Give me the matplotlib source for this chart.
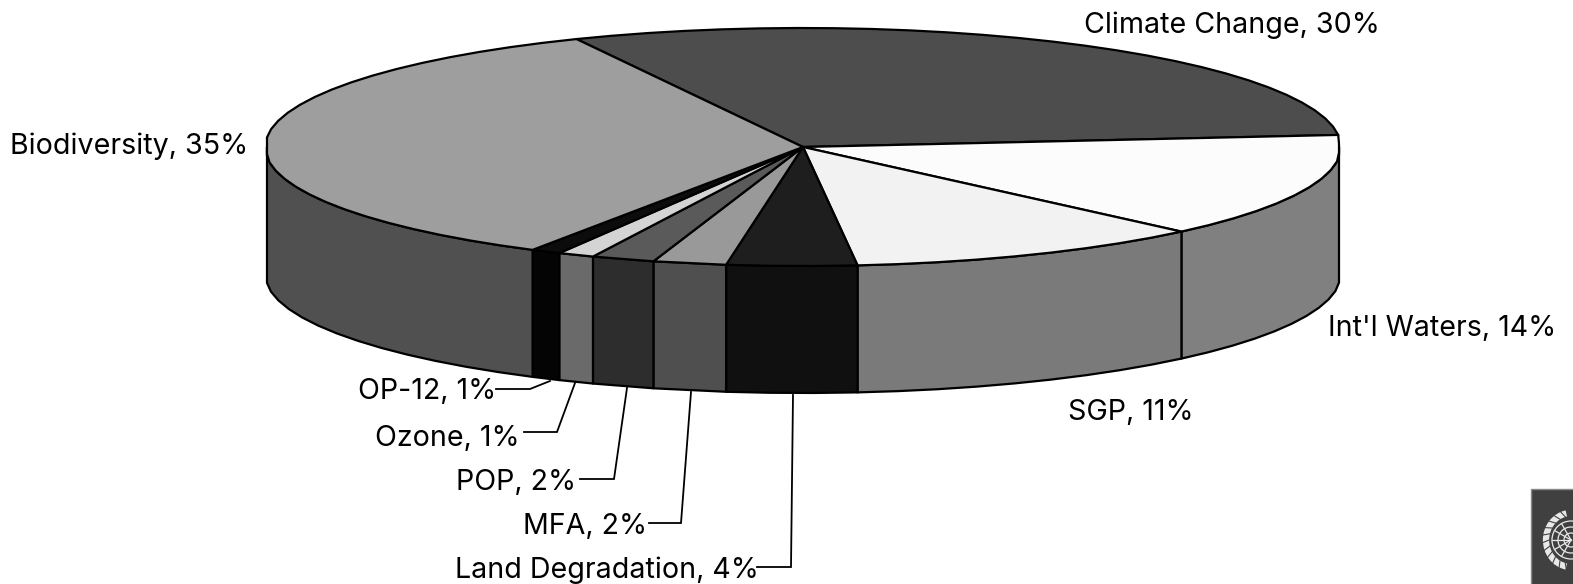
import numpy as np
import matplotlib
matplotlib.use("Agg")
import matplotlib.pyplot as plt
from matplotlib.patches import Polygon, Rectangle, Circle, Arc

plt.rcParams['font.family'] = ['Inter', 'Liberation Sans', 'DejaVu Sans']

# Data, clockwise from the Climate Change start edge
categories = ["Climate Change", "Int'l Waters", "SGP", "Land Degradation", "MFA",
              "POP", "Ozone", "OP-12", "Biodiversity"]
shares = [30.3, 14.2, 10.8, 3.9, 2.2, 1.9, 1.1, 0.9, 34.7]
top_colors = ["#4d4d4d", "#fcfcfc", "#f2f2f2", "#1e1e1e", "#999999",
              "#5a5a5a", "#d4d4d4", "#0c0c0c", "#9e9e9e"]
side_colors = ["#4d4d4d", "#808080", "#7a7a7a", "#101010", "#4f4f4f",
               "#2d2d2d", "#6a6a6a", "#040404", "#505050"]

# Layout (pixels)
W, H = 1573, 584
CX, CY, A, B, DEPTH = 803, 147, 538, 119, 127
HALF_W = 536
START = 114.9
STEP = 4.0
LW = 1.6
label_pos = {
    "Climate Change": (1380, 33), "Int'l Waters": (1556, 336), "SGP": (1194, 420),
    "Land Degradation": (759, 578), "MFA": (647, 534), "POP": (576, 490),
    "Ozone": (520, 446), "OP-12": (496, 399), "Biodiversity": (248, 154),
}
leaders = {
    "OP-12": [(496, 389), (530, 389), (550, 381)],
    "Ozone": [(524, 432), (557, 432), (575, 383)],
    "POP": [(580, 479), (614, 479), (627, 388)],
    "MFA": [(649, 523), (681, 523), (691, 392)],
    "Land Degradation": [(757, 567), (791, 567), (793, 395)],
}

fig = plt.figure(figsize=(W / 100, H / 100), dpi=100)
ax = fig.add_axes([0, 0, 1, 1])
ax.set_xlim(0, W)
ax.set_ylim(H, 0)
ax.axis("off")


def arc_pts(t1, t2, dy=0.0):
    n = max(2, int(abs(t2 - t1) / STEP) + 1)
    t = np.radians(np.linspace(t1, t2, n))
    x = np.clip(CX + A * np.cos(t), CX - HALF_W, CX + HALF_W)
    return np.column_stack([x, CY - B * np.sin(t) + dy])


# Slice edges
edges = START - np.concatenate([[0], np.cumsum(shares)]) * 3.6

# Walls: the part of each slice on the near half of the ellipse
for i in range(len(shares)):
    a, b = min(edges[i], 0.0), max(edges[i + 1], -180.0)
    if a <= b:
        continue
    wall = np.vstack([arc_pts(a, b), arc_pts(b, a, DEPTH)])
    ax.add_patch(Polygon(wall, closed=True, fc=side_colors[i], ec="black", lw=LW,
                         joinstyle="round", zorder=2))

# Top surface
for i in range(len(shares)):
    pts = np.vstack([[CX, CY], arc_pts(edges[i], edges[i + 1])])
    ax.add_patch(Polygon(pts, closed=True, fc=top_colors[i], ec="black", lw=LW,
                         joinstyle="round", zorder=3))

# Labels
for name, val in zip(categories, shares):
    x, y = label_pos[name]
    ax.text(x, y, f"{name}, {val:.0f}%", ha="right", va="baseline", fontsize=20.6,
            color="black", zorder=5)
for name, path in leaders.items():
    p = np.array(path)
    ax.plot(p[:, 0], p[:, 1], color="black", lw=1.3, zorder=4, solid_joinstyle="miter")

# Emblem in the lower right corner, cut by the canvas edge
ax.add_patch(Rectangle((1531, 489), 43, 96, fc="#404040", ec="#8a8a8a", lw=1, zorder=2))
EX, EY = 1571, 540
ec = "#e8e8e8"
for r in (19, 13, 7):
    ax.add_patch(Circle((EX, EY), r, fc="none", ec=ec, lw=0.9, zorder=3))
for ang in (120, 150, 180, 210, 240):
    ax.plot([EX, EX + 19 * np.cos(np.radians(ang))],
            [EY, EY + 19 * np.sin(np.radians(ang))], color=ec, lw=0.9, zorder=3)
ax.add_patch(Arc((EX, EY), 50, 54, theta1=100, theta2=260, color=ec, lw=4.5, zorder=3))
for ang in np.arange(105, 260, 15):
    c, s = np.cos(np.radians(ang)), np.sin(np.radians(ang))
    ax.plot([EX + 22 * c, EX + 29 * c + 3 * s], [EY + 24 * s, EY + 30 * s - 3 * c],
            color="#404040", lw=0.8, zorder=4)

fig.savefig("out.png", dpi=100)
